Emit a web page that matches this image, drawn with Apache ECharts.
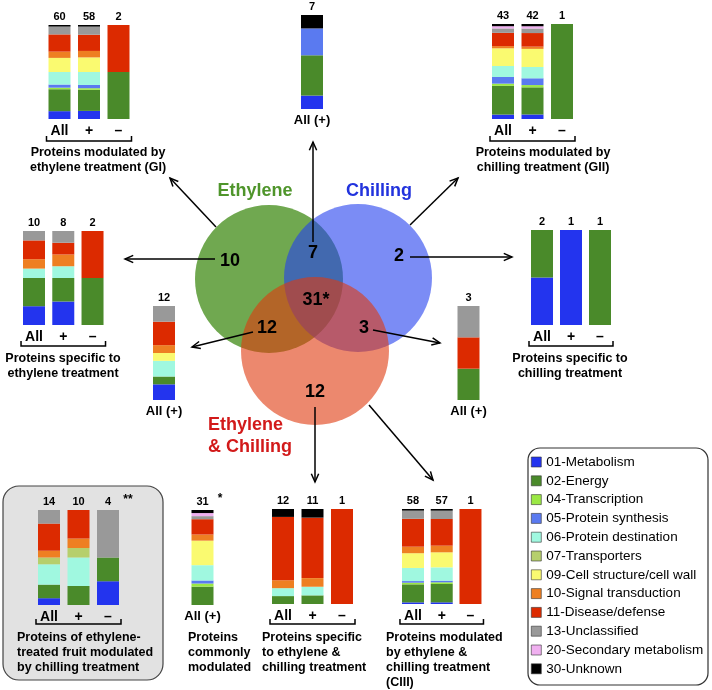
<!DOCTYPE html>
<html>
<head>
<meta charset="utf-8">
<script src="https://cdn.jsdelivr.net/npm/echarts@6/dist/echarts.min.js"></script>
<style>
  html, body { margin: 0; background: #fff; }
  #main { width: 712px; height: 690px; }
</style>
</head>
<body>
<div id="main"></div>
<script>
// functional classes, bottom to top in every bar
const classes = ['01-Metabolism', '02-Energy', '04-Transcription', '05-Protein synthesis',
  '06-Protein destination', '07-Transporters', '09-Cell structure/cell wall',
  '10-Signal transduction', '11-Disease/defense', '13-Unclassified',
  '20-Secondary metabolism', '30-Unknown'];

// one row per bar, columns follow `classes`
const giCats = ['All', '+', '–'];
const giCounts = [
  [5, 14, 1, 2, 8, 0, 9, 4, 11, 5, 0, 1],
  [5, 13, 1, 2, 8, 0, 9, 4, 10, 5, 0, 1],
  [0, 1, 0, 0, 0, 0, 0, 0, 1, 0, 0, 0]
];
const ecCats = ['All (+)'];
const ecCounts = [[1, 3, 0, 2, 0, 0, 0, 0, 0, 0, 0, 1]];
const giiCats = ['All', '+', '–'];
const giiCounts = [
  [2, 13, 1, 3, 5, 0, 8, 1, 6, 2, 1, 1],
  [2, 12, 1, 3, 5, 0, 8, 1, 6, 2, 1, 1],
  [0, 1, 0, 0, 0, 0, 0, 0, 0, 0, 0, 0]
];
const eOnlyCats = ['All', '+', '–'];
const eOnlyCounts = [
  [2, 3, 0, 0, 1, 0, 0, 1, 2, 1, 0, 0],
  [2, 2, 0, 0, 1, 0, 0, 1, 1, 1, 0, 0],
  [0, 1, 0, 0, 0, 0, 0, 0, 1, 0, 0, 0]
];
const eAndEcCats = ['All (+)'];
const eAndEcCounts = [[2, 1, 0, 0, 2, 0, 1, 1, 3, 2, 0, 0]];
const cAndEcCats = ['All (+)'];
const cAndEcCounts = [[0, 1, 0, 0, 0, 0, 0, 0, 1, 1, 0, 0]];
const cOnlyCats = ['All', '+', '–'];
const cOnlyCounts = [
  [1, 1, 0, 0, 0, 0, 0, 0, 0, 0, 0, 0],
  [1, 0, 0, 0, 0, 0, 0, 0, 0, 0, 0, 0],
  [0, 1, 0, 0, 0, 0, 0, 0, 0, 0, 0, 0]
];
const etfCats = ['All', '+', '–'];
const etfCounts = [
  [1, 2, 0, 0, 3, 1, 0, 1, 4, 2, 0, 0],
  [0, 2, 0, 0, 3, 1, 0, 1, 3, 0, 0, 0],
  [1, 1, 0, 0, 0, 0, 0, 0, 0, 2, 0, 0]
];
const commonCats = ['All (+)'];
const commonCounts = [[0, 6, 1, 1, 5, 0, 8, 2, 5, 1, 1, 1]];
const ecOnlyCats = ['All', '+', '–'];
const ecOnlyCounts = [
  [0, 1, 0, 0, 1, 0, 0, 1, 8, 0, 0, 1],
  [0, 1, 0, 0, 1, 0, 0, 1, 7, 0, 0, 1],
  [0, 0, 0, 0, 0, 0, 0, 0, 1, 0, 0, 0]
];
const ciiiCats = ['All', '+', '–'];
const ciiiCounts = [
  [1, 11, 1, 1, 8, 0, 9, 4, 17, 5, 0, 1],
  [1, 11, 1, 1, 8, 0, 9, 4, 16, 5, 0, 1],
  [0, 0, 0, 0, 0, 0, 0, 0, 1, 0, 0, 0]
];

// venn region counts: E only, E∩C, C only, all three, E∩EC, C∩EC, EC only
const vennLabels = ['10', '7', '2', '31*', '12', '3', '12'];

const classColors = ['#2334ee', '#4a8a2a', '#9be844', '#5a7af0', '#a0f8e0', '#b6cf6c',
  '#fafa70', '#ee7f22', '#dc2a00', '#999999', '#f0b0f0', '#000000'];
const FONT = '"Liberation Sans", Arial, Helvetica, sans-serif';

const panels = [
  { cats: giCats, counts: giCounts, left: 44.75, top: 25, width: 88.5, height: 94, bracket: 141 },
  { cats: ecCats, counts: ecCounts, left: 297, top: 15, width: 30, height: 94, small: true },
  { cats: giiCats, counts: giiCounts, left: 488.25, top: 24, width: 88.5, height: 95, bracket: 141 },
  { cats: eOnlyCats, counts: eOnlyCounts, left: 19.4, top: 231, width: 87.75, height: 94, bracket: 346 },
  { cats: eAndEcCats, counts: eAndEcCounts, left: 149, top: 306, width: 30, height: 94, small: true },
  { cats: cAndEcCats, counts: cAndEcCounts, left: 453.5, top: 306, width: 30, height: 94, small: true },
  { cats: cOnlyCats, counts: cOnlyCounts, left: 527.5, top: 230, width: 87, height: 95, bracket: 346 },
  { cats: etfCats, counts: etfCounts, left: 34.25, top: 510, width: 88.5, height: 95, bracket: 624 },
  { cats: commonCats, counts: commonCounts, left: 187.5, top: 510, width: 30, height: 95, small: true },
  { cats: ecOnlyCats, counts: ecOnlyCounts, left: 268.25, top: 509, width: 88.5, height: 95, bracket: 624 },
  { cats: ciiiCats, counts: ciiiCounts, left: 398.6, top: 509, width: 86.25, height: 95, bracket: 624 }
];

const grid = [], xAxis = [], yAxis = [], series = [], graphic = [];

function txt(x, y, text, size, opts) {
  opts = opts || {};
  return {
    type: 'text', x: x, y: y, z: 20,
    style: {
      text: text, fill: opts.color || '#000', fontFamily: FONT, fontSize: size,
      fontWeight: opts.weight || 'bold', align: opts.align || 'center',
      verticalAlign: 'middle', lineHeight: opts.lineHeight || 15
    }
  };
}

function arrow(x1, y1, x2, y2) {
  const a = Math.atan2(y2 - y1, x2 - x1), h = 9, w = 0.42;
  graphic.push({ type: 'line', z: 20, shape: { x1: x1, y1: y1, x2: x2, y2: y2 }, style: { stroke: '#000', lineWidth: 1.5 } });
  graphic.push({
    type: 'polyline', z: 20,
    shape: { points: [[x2 - h * Math.cos(a - w), y2 - h * Math.sin(a - w)], [x2, y2], [x2 - h * Math.cos(a + w), y2 - h * Math.sin(a + w)]] },
    style: { stroke: '#000', lineWidth: 1.5, fill: null }
  });
}

panels.forEach(function (p, i) {
  const totals = p.counts.map(r => r.reduce((a, b) => a + b, 0));
  grid.push({ left: p.left, top: p.top, width: p.width, height: p.height });
  xAxis.push({
    gridIndex: i, type: 'category', data: p.cats,
    axisLine: { show: false }, axisTick: { show: false },
    axisLabel: { interval: 0, margin: 5, fontSize: p.small ? 13 : 14, fontWeight: 'bold', color: '#000', fontFamily: FONT }
  });
  xAxis.push({
    gridIndex: i, type: 'category', position: 'top', data: totals.map(String),
    axisLine: { show: false }, axisTick: { show: false },
    axisLabel: { interval: 0, margin: 3, fontSize: 11, fontWeight: 'bold', color: '#000', fontFamily: FONT }
  });
  yAxis.push({ gridIndex: i, type: 'value', min: 0, max: 100, show: false });
  classes.forEach(function (name, c) {
    series.push({
      type: 'bar', name: name, xAxisIndex: 2 * i, yAxisIndex: i, stack: 'p' + i,
      barWidth: 22, silent: true,
      itemStyle: { color: classColors[c] },
      data: p.counts.map((r, j) => r[c] / totals[j] * 100)
    });
  });
  if (p.bracket) {
    const band = p.width / p.cats.length;
    const x1 = p.left + band / 2 - 13, x2 = p.left + p.width - band / 2 + 13;
    graphic.push({
      type: 'polyline', z: 20,
      shape: { points: [[x1, p.bracket - 5], [x1, p.bracket], [x2, p.bracket], [x2, p.bracket - 5]] },
      style: { stroke: '#000', lineWidth: 1.5, fill: null }
    });
  }
});

// grey box behind ethylene-treated fruit panel
graphic.push({ type: 'rect', z: 0, shape: { x: 3, y: 486, width: 160, height: 194, r: 16 },
  style: { fill: '#e2e2e2', stroke: '#444', lineWidth: 1.2 } });
// legend frame
graphic.push({ type: 'rect', z: 0, shape: { x: 528, y: 448, width: 180, height: 237, r: 12 },
  style: { fill: null, stroke: '#333', lineWidth: 1.2 } });

// venn
graphic.push({ type: 'circle', z: 1, shape: { cx: 269, cy: 279, r: 74 }, style: { fill: '#70a850' } });
graphic.push({ type: 'circle', z: 1, shape: { cx: 358, cy: 278, r: 74 }, style: { fill: 'rgba(35,63,238,0.6)' } });
graphic.push({ type: 'circle', z: 1, shape: { cx: 315, cy: 351, r: 74 }, style: { fill: 'rgba(223,57,13,0.6)' } });
graphic.push(txt(255, 191, 'Ethylene', 18, { color: '#4f952b' }));
graphic.push(txt(379, 191, 'Chilling', 18, { color: '#2233dd' }));
graphic.push(txt(208, 436, 'Ethylene\n& Chilling', 18, { color: '#d21a1a', align: 'left', lineHeight: 22 }));
const vennPos = [[230, 261], [313, 253], [399, 256], [316, 300], [267, 328], [364, 328], [315, 392]];
vennLabels.forEach((t, k) => graphic.push(txt(vennPos[k][0], vennPos[k][1], t, 18)));

arrow(216, 227, 170, 178);
arrow(313, 242, 313, 142);
arrow(410, 225, 458, 178);
arrow(215, 259, 125, 259);
arrow(410, 257, 512, 257);
arrow(253, 332, 192, 347);
arrow(373, 330, 440, 343);
arrow(315, 407, 315, 482);
arrow(369, 405, 433, 480);

// panel captions
graphic.push(txt(98, 160, 'Proteins modulated by\nethylene treatment (GI)', 12.5));
graphic.push(txt(543, 160, 'Proteins modulated by\nchilling treatment (GII)', 12.5));
graphic.push(txt(63, 366, 'Proteins specific to\nethylene treatment', 12.5));
graphic.push(txt(570, 366, 'Proteins specific to\nchilling treatment', 12.5));
graphic.push(txt(17, 653, 'Proteins of ethylene-\ntreated fruit modulated\nby chilling treatment', 12.5, { align: 'left' }));
graphic.push(txt(188, 653, 'Proteins\ncommonly\nmodulated', 12.5, { align: 'left' }));
graphic.push(txt(262, 653, 'Proteins specific\nto ethylene &\nchilling treatment', 12.5, { align: 'left' }));
graphic.push(txt(386, 660.5, 'Proteins modulated\nby ethylene &\nchilling treatment\n(CIII)', 12.5, { align: 'left' }));
graphic.push(txt(128, 500, '**', 12));
graphic.push(txt(220, 499, '*', 12));

const chart = echarts.init(document.getElementById('main'));
chart.setOption({
  animation: false,
  grid: grid,
  xAxis: xAxis,
  yAxis: yAxis,
  series: series,
  graphic: graphic,
  legend: {
    data: classes, orient: 'vertical', left: 531, top: 455, padding: 0,
    itemWidth: 10, itemHeight: 10, itemGap: 4.8, icon: 'rect', selectedMode: false,
    itemStyle: { borderColor: '#333', borderWidth: 0.6 },
    textStyle: { fontSize: 13.5, color: '#000', fontFamily: FONT }
  }
});
</script>
</body>
</html>
